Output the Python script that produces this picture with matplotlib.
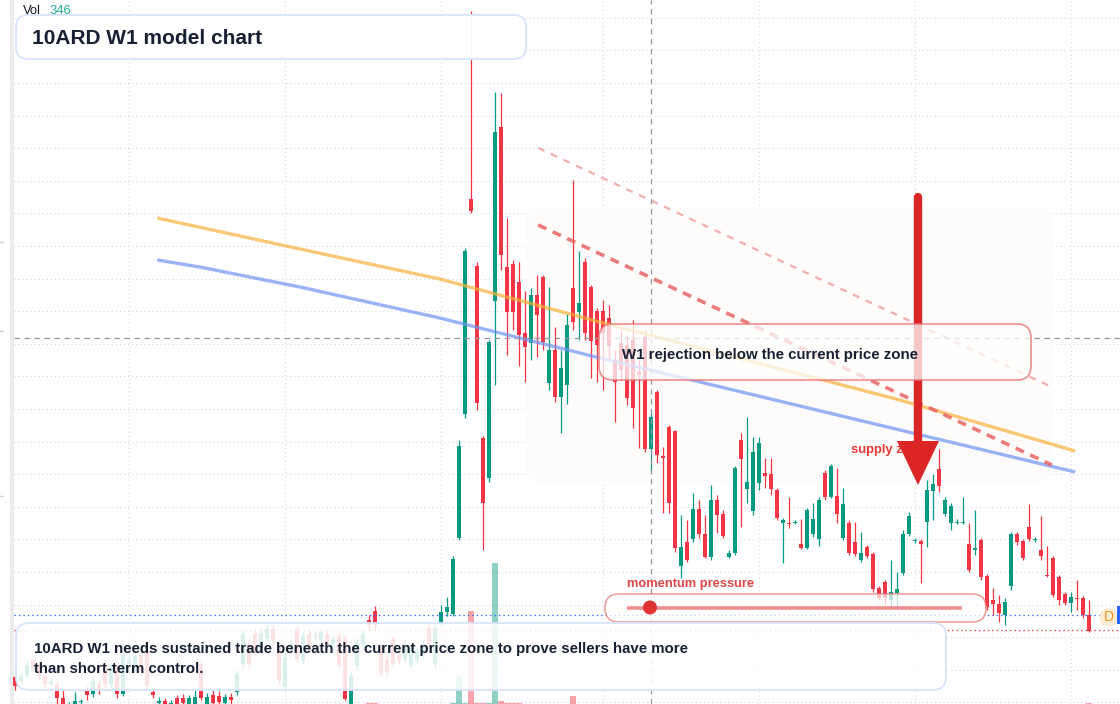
import numpy as np
import matplotlib
matplotlib.use("Agg")
import matplotlib.pyplot as plt
from matplotlib.patches import FancyBboxPatch, Polygon, Circle, Rectangle
from matplotlib.transforms import Affine2D, blended_transform_factory

plt.rcParams['font.family'] = ['Liberation Sans', 'DejaVu Sans']
plt.rcParams['lines.scale_dashes'] = False

# ---------------- data (weekly candles, price) ----------------
opens = [0.43,0.39,0.44,0.60,0.53,0.44,0.36,0.36,0.22,0.15,
         0.08,0.18,0.30,0.26,0.37,0.56,0.36,0.53,0.26,0.56,
         0.52,0.65,0.69,0.28,0.17,0.19,0.16,0.22,0.22,0.16,
         0.16,0.56,0.16,0.25,0.24,0.17,0.23,0.28,0.56,0.76,
         0.86,0.69,0.81,0.91,0.74,0.33,0.72,0.90,0.59,0.86,
         0.83,0.80,0.86,0.75,0.84,0.82,0.13,0.54,0.76,1.00,
         1.09,0.74,0.60,0.81,0.65,0.61,0.55,0.60,0.66,0.92,
         0.56,
         0.96,1.08,1.06,1.82,3.06,5.21,4.54,2.82,2.42,4.19,
         5.93,4.53,4.56,4.38,3.87,3.77,4.25,4.43,3.37,3.70,
         3.23,3.35,4.32,4.08,4.58,4.33,4.09,4.09,4.02,3.60,
         3.77,3.75,3.80,3.48,3.83,2.71,3.28,2.64,2.93,2.89,
         1.54,1.78,1.81,2.11,1.86,1.63,2.20,2.06,1.63,1.67,
         2.80,2.31,2.09,2.37,2.47,2.46,2.30,1.97,1.97,1.97,
         1.76,1.72,1.86,1.81,2.47,2.23,2.24,1.82,1.97,1.78,
         1.60,1.73,1.66,1.32,1.38,1.20,1.27,1.47,1.86,1.79,
         1.79,1.98,2.29,2.51,2.06,1.97,1.97,1.97,1.76,1.70,
         1.80,1.44,1.20,1.16,1.05,1.34,1.86,1.79,1.93,1.80,
         1.70,1.45,1.62,1.43,1.26,1.17,1.22,1.22,1.05]
closes = [0.34,0.44,0.55,0.52,0.44,0.36,0.39,0.22,0.14,0.16,
          0.19,0.19,0.25,0.39,0.30,0.36,0.53,0.26,0.65,0.60,
          0.64,0.48,0.34,0.25,0.19,0.14,0.17,0.15,0.17,0.22,
          0.23,0.22,0.23,0.17,0.18,0.23,0.20,0.46,0.86,0.56,
          0.69,0.87,0.91,0.80,0.40,0.63,0.76,0.61,0.84,0.70,
          0.84,0.88,0.75,0.81,0.55,0.21,0.44,0.78,0.86,0.95,
          0.95,0.47,0.48,0.56,0.59,0.76,0.72,0.68,0.76,0.76,
          0.92,
          1.08,1.13,1.61,2.74,4.69,5.09,3.17,2.17,3.78,5.88,
          4.65,4.08,4.08,3.85,3.73,4.25,4.05,3.78,3.70,3.23,
          3.52,3.95,3.98,4.17,3.87,3.79,3.75,3.87,3.74,3.38,
          3.50,3.22,3.12,3.45,2.71,3.03,2.65,2.62,2.17,1.72,
          1.73,1.60,2.11,1.86,1.63,2.20,2.05,1.84,1.67,2.52,
          2.61,2.38,2.68,2.77,2.44,2.31,2.02,2.00,1.96,1.98,
          1.72,2.10,2.01,2.20,2.23,2.54,2.06,2.16,1.67,1.66,
          1.67,1.64,1.31,1.22,1.22,1.28,1.31,1.86,2.04,1.80,
          1.76,2.30,2.36,2.34,2.20,2.14,1.98,1.98,1.50,1.72,
          1.43,1.13,1.16,1.07,1.18,1.86,1.78,1.62,1.81,1.81,
          1.64,1.44,1.25,1.20,1.17,1.23,1.21,1.05,0.89]
highs = [0.45,0.48,0.60,0.63,0.56,0.48,0.42,0.40,0.30,0.18,
         0.28,0.21,0.34,0.44,0.40,0.60,0.58,0.56,0.70,0.65,
         0.68,0.70,0.72,0.32,0.23,0.22,0.20,0.25,0.26,0.25,
         0.30,0.60,0.27,0.30,0.29,0.26,0.27,0.50,0.90,0.80,
         0.90,0.92,0.95,0.96,0.78,0.68,0.80,0.94,0.88,0.90,
         0.88,0.92,0.90,0.85,0.88,0.85,0.48,0.82,0.90,1.05,
         1.14,0.78,0.65,0.84,0.68,0.80,0.76,0.72,0.80,0.96,
         0.96,
         1.15,1.23,1.64,2.80,4.72,7.09,4.58,2.84,3.80,6.28,
         6.27,5.02,4.60,4.58,4.29,4.32,4.45,4.45,4.33,3.93,
         3.70,4.06,5.40,4.69,4.62,4.35,4.12,4.20,4.15,3.70,
         3.90,3.85,4.00,3.60,3.90,3.11,3.30,2.73,2.95,2.90,
         2.05,2.00,2.27,2.20,2.05,2.35,2.25,2.10,1.70,2.54,
         2.87,3.03,2.83,2.83,2.62,2.62,2.32,2.02,2.23,2.00,
         2.01,2.12,2.17,2.23,2.50,2.56,2.52,2.32,2.00,1.98,
         1.88,1.75,1.68,1.34,1.40,1.60,1.48,1.90,2.08,1.82,
         1.81,2.40,2.46,2.71,2.23,2.17,2.01,2.23,1.97,2.10,
         1.82,1.46,1.32,1.25,1.22,1.88,1.88,1.81,2.16,1.83,
         2.04,1.74,1.64,1.45,1.28,1.28,1.40,1.24,1.20]
lows = [0.30,0.36,0.42,0.48,0.40,0.32,0.34,0.12,0.08,0.13,
        0.04,0.16,0.20,0.23,0.26,0.30,0.32,0.22,0.24,0.52,
        0.48,0.44,0.30,0.22,0.14,0.08,0.08,0.10,0.12,0.12,
        0.12,0.20,0.10,0.14,0.13,0.14,0.14,0.25,0.52,0.52,
        0.64,0.65,0.78,0.75,0.36,0.30,0.68,0.58,0.56,0.66,
        0.80,0.75,0.70,0.70,0.52,0.20,0.10,0.50,0.72,0.90,
        0.90,0.44,0.44,0.52,0.56,0.58,0.52,0.56,0.62,0.72,
        0.52,
        0.94,1.04,1.04,1.80,3.02,5.07,3.10,1.70,2.38,3.35,
        4.50,3.65,3.90,3.54,3.38,3.60,3.63,3.70,3.30,3.18,
        2.87,3.16,3.90,3.80,3.80,3.42,3.38,3.30,3.60,2.98,
        3.40,3.15,2.92,2.72,2.68,2.47,2.57,2.07,2.07,1.68,
        1.42,1.58,1.78,1.82,1.62,1.60,1.87,1.82,1.62,1.65,
        1.93,2.17,2.05,2.30,2.32,2.25,2.00,1.57,1.92,1.96,
        1.71,1.71,1.83,1.74,2.20,2.22,1.97,1.80,1.65,1.64,
        1.58,1.62,1.28,1.20,1.15,1.13,1.13,1.45,1.84,1.77,
        1.37,1.73,2.00,2.28,2.04,1.90,1.96,1.96,1.48,1.65,
        1.40,1.10,1.05,0.98,0.95,1.30,1.75,1.60,1.79,1.78,
        1.60,1.43,1.23,1.15,1.15,1.08,1.10,1.02,0.88]
volumes = [60,40,50,70,40,30,30,80,60,30,
           50,30,40,60,40,70,50,60,80,40,
           30,40,70,40,30,50,30,40,40,30,
           40,90,40,30,30,30,30,40,110,70,
           60,50,50,60,70,90,40,70,60,50,
           30,40,40,30,60,100,80,70,40,180,
           220,80,60,60,40,50,40,40,40,100,
           120,
           160,150,350,9900,300,31600,300,250,220,48000,
           1000,220,180,200,150,140,130,170,110,130,
           120,150,2700,170,160,130,110,100,90,100,
           80,110,100,70,130,80,100,60,100,110,
           70,60,70,60,60,80,60,50,30,100,
           90,70,80,60,50,40,60,40,40,30,
           40,60,40,50,60,60,50,60,60,50,
           40,40,70,40,40,40,40,60,60,30,
           40,60,50,60,40,40,30,40,60,40,
           60,70,50,40,40,80,60,50,60,40,
           40,30,60,60,40,40,40,70,346]

# moving averages (anchor points: candle index, value)
ma_orange_idx = [23.7, 47.5, 70.8, 98.7, 147.5, 176.7]
ma_orange = [5.02, 4.71, 4.41, 3.96, 3.20, 2.69]
ma_blue_idx = [23.7, 30.8, 47.5, 70.8, 97.5, 147.5, 176.7]
ma_blue = [4.60, 4.53, 4.33, 4.02, 3.62, 2.90, 2.48]

# drawn trend lines (start/end candle index, price)
trend_idx = [87.2, 172.8]
trend_upper = [5.72, 3.33]
trend_lower = [4.95, 2.55]

crosshair_idx = 106
crosshair_price = 3.82
grid_idx = [19, 45, 71, 98, 124, 150, 176]

UP = '#089981'
DN = '#f23645'

W, H = 1120, 704
fig = plt.figure(figsize=(W / 100, H / 100), dpi=100)
ax = fig.add_axes([0, 0, 1, 1])
ax.set_axis_off()
n = len(opens)
idx = np.arange(n)
ax.set_xlim(-2.5, -2.5 + W / 6.0)
ax.set_ylim(7.20 - H / 100.0, 7.20)

# pixel transform (x right, y down from top-left)
T = Affine2D().scale(1, -1).translate(0, H)

# pane edge
ax.add_patch(Rectangle((10, 0), 4, H, transform=T, fc='#ececec', ec='none', zorder=0.3))
for yy in (242, 331, 496):
    ax.plot([0, 3], [yy, yy], transform=T, color='#cfcfcf', lw=1, zorder=0.3)

# grid
gdash = (0, (0.72, 2.2))
for k in range(22):
    p = 7.022 - 0.326 * k
    ax.axhline(p, xmin=14 / W, color='#d4d4d4', lw=0.8, ls=gdash, zorder=0.5)
for gi in grid_idx:
    ax.axvline(gi, color='#d4d4d4', lw=0.8, ls=gdash, zorder=0.5)

# shaded zone
ax.add_patch(FancyBboxPatch((526, 207), 527, 275, boxstyle='round,pad=0,rounding_size=16',
                            transform=T, fc='#fefcfa', ec='none', zorder=1))

# volume bars
bt = blended_transform_factory(ax.transData, ax.transAxes)
vtop = max(volumes) / 0.2
o = np.array(opens); c = np.array(closes); hi = np.array(highs); lo = np.array(lows)
up = c >= o
for i, v in enumerate(volumes):
    ax.add_patch(Rectangle((i - 0.42, 0), 0.84, v / vtop, transform=bt,
                           fc=UP if up[i] else DN, alpha=0.45, ec='none', zorder=2))

# candles
cols = np.where(up, UP, DN)
ax.vlines(idx, lo, hi, colors=cols, lw=0.9, zorder=3)
body_lo = np.minimum(o, c)
body_h = np.maximum(np.abs(c - o), 0.012)
ax.bar(idx, body_h, bottom=body_lo, width=0.82, color=cols, linewidth=0, zorder=3.1)

# moving averages
ax.plot(ma_orange_idx, ma_orange, color='#f7b03c', alpha=0.7, lw=2.4, zorder=4,
        solid_capstyle='butt')
ax.plot(ma_blue_idx, ma_blue, color='#6f92f3', alpha=0.7, lw=2.4, zorder=4,
        solid_capstyle='butt')

# trend lines
ax.plot(trend_idx, trend_upper, color='#f08c8c', alpha=0.7, lw=1.6,
        ls=(0, (5, 5)), zorder=4.1)
ax.plot(trend_idx, trend_lower, color='#e86464', alpha=0.85, lw=2.6,
        ls=(0, (6.5, 5)), zorder=4.1)

# price lines
ax.plot([14, W], [615, 615], transform=T, color='#2962ff', lw=0.9, ls=(0, (1, 2.2)), zorder=4.5)
ax.plot([14, W], [630, 630], transform=T, color='#f23645', lw=0.9, ls=(0, (1, 2.2)), zorder=4.5)

# crosshair
ax.axhline(crosshair_price, xmin=14 / W, color='#9598a1', lw=0.9, ls=(0, (4, 3.2)), zorder=5)
ax.axvline(crosshair_idx, color='#9598a1', lw=0.9, ls=(0, (4, 3.2)), zorder=5)

# supply zone label (below the arrow)
ax.text(851, 453, 'supply zone', transform=T, color='#e53935', fontsize=9.4,
        fontweight='bold', va='baseline', ha='left', zorder=5.5)

# big arrow
ax.plot([918, 918], [197, 446], transform=T, color='#dc2626', lw=6, solid_capstyle='round', zorder=6)
ax.add_patch(Polygon([(897, 441), (939, 441), (918, 485)], closed=True, transform=T,
                     fc='#dc2626', ec='none', zorder=6))

# rejection callout
ax.add_patch(FancyBboxPatch((599, 324), 432, 56, boxstyle='round,pad=0,rounding_size=14',
                            transform=T, fc=(1, 1, 1, 0.74), ec=(0.91, 0.45, 0.45, 0.75),
                            lw=1.3, zorder=7))
ax.text(622, 359, 'W1 rejection below the current price zone', transform=T,
        color='#172033', fontsize=10.8, fontweight='bold', va='baseline', zorder=9)

# momentum pressure
ax.text(627, 587, 'momentum pressure', transform=T, color='#e04646', fontsize=9.3,
        fontweight='bold', va='baseline', zorder=9)
ax.add_patch(FancyBboxPatch((605, 594), 381, 28, boxstyle='round,pad=0,rounding_size=14',
                            transform=T, fc=(1, 1, 1, 0.72), ec=(0.93, 0.5, 0.5, 0.75),
                            lw=1.2, zorder=7))
ax.plot([627, 962], [607.5, 607.5], transform=T, color='#ec7c7c', alpha=0.85, lw=2.6,
        solid_capstyle='butt', zorder=8)
ax.add_patch(Circle((650, 607.5), 7, transform=T, fc='#e03434', ec='none', zorder=8.5))

# bottom note box
ax.add_patch(FancyBboxPatch((16, 623), 930, 67, boxstyle='round,pad=0,rounding_size=13',
                            transform=T, fc=(1, 1, 1, 0.86), ec='#d8e4fa', lw=1.3, zorder=7))
ax.text(34, 653, '10ARD W1 needs sustained trade beneath the current price zone to prove sellers have more',
        transform=T, color='#172033', fontsize=10.8, fontweight='bold', va='baseline', zorder=9)
ax.text(34, 673, 'than short-term control.', transform=T, color='#172033', fontsize=10.8,
        fontweight='bold', va='baseline', zorder=9)

# title box
ax.add_patch(FancyBboxPatch((16, 15), 510, 44, boxstyle='round,pad=0,rounding_size=12',
                            transform=T, fc=(1, 1, 1, 0.94), ec='#d8e4fa', lw=1.3, zorder=7))
ax.text(32, 44, '10ARD W1 model chart', transform=T, color='#172033', fontsize=15,
        fontweight='bold', va='baseline', zorder=9)

# volume legend
ax.text(23, 14, 'Vol', transform=T, color='#131722', fontsize=9.4, va='baseline', zorder=9)
ax.text(49, 14, '346', transform=T, color='#22ab94', fontsize=9.4, va='baseline', zorder=9)

# D marker and right edge tick
ax.add_patch(Circle((1109, 617), 9.5, transform=T, fc='#fdebd3', ec='none', zorder=8))
ax.text(1109, 617, 'D', transform=T, color='#f7931a', fontsize=10, ha='center', va='center', zorder=9)
ax.add_patch(Rectangle((1117, 606), 3, 18, transform=T, fc='#2962ff', ec='none', zorder=8))

fig.savefig('out.png', dpi=100)
